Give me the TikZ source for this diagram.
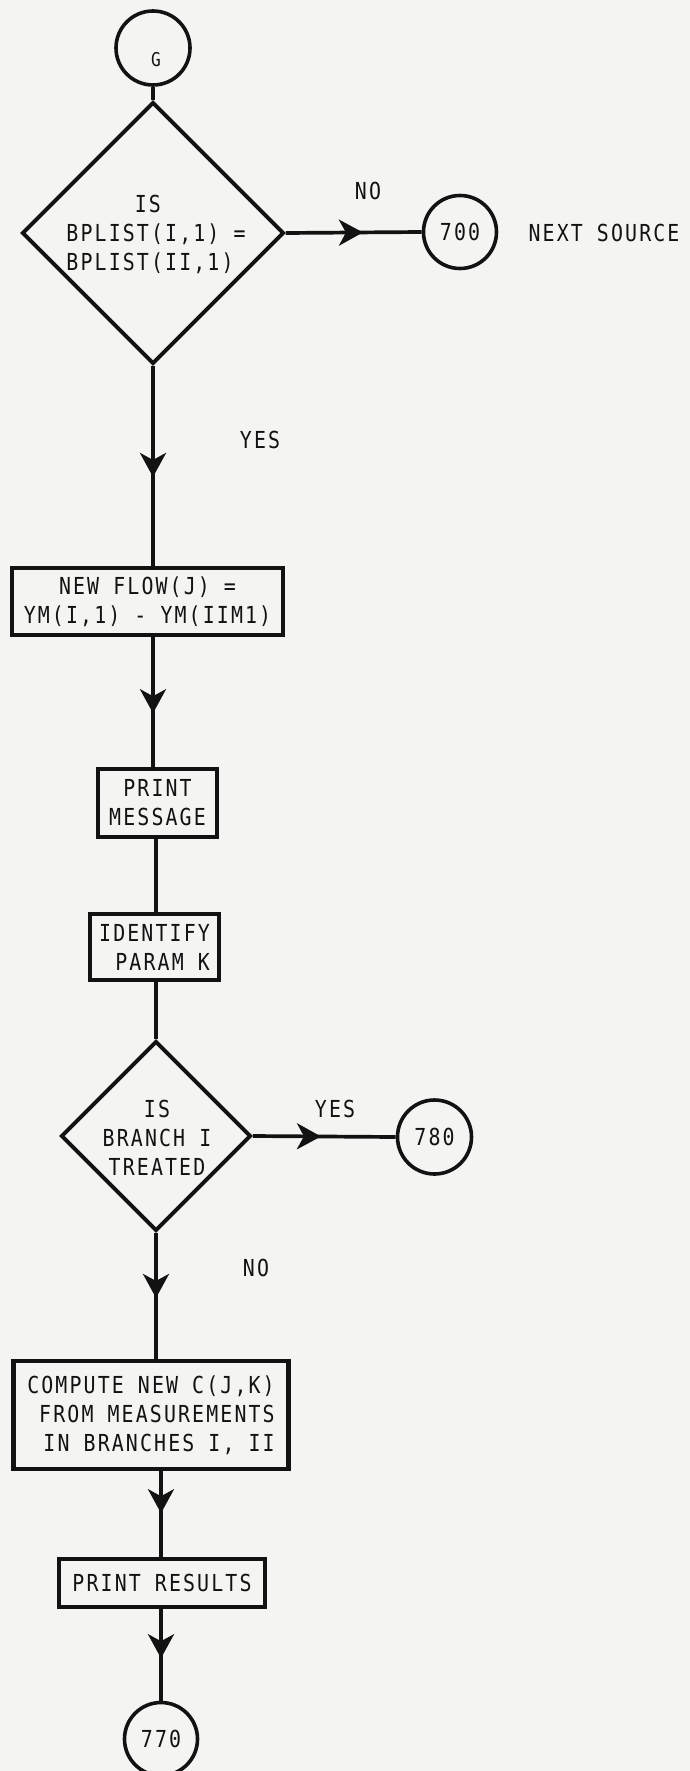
\documentclass[tikz,border=0pt]{standalone}
\usepackage{fontspec}
\usetikzlibrary{arrows.meta,shapes.geometric,decorations.markings}
\newfontfamily\lrfont{DejaVu Sans Mono}[FakeStretch=0.85,LetterSpace=9.1]
\definecolor{bgcol}{RGB}{244,244,242}
\definecolor{ink}{RGB}{18,18,18}
\begin{document}
\begin{tikzpicture}[x=1pt,y=-1pt,
  txt/.style={font=\lrfont\fontsize{23.4pt}{29pt}\selectfont, text=ink, inner sep=0pt},
  circnode/.style={circle, draw=ink, line width=3.6pt, minimum size=73pt, inner sep=0pt, text=ink,
    font=\lrfont\fontsize{23.4pt}{29pt}\selectfont},
  boxnode/.style={rectangle, draw=ink, line width=4.4pt, inner sep=0pt, text=ink,
    font=\lrfont\fontsize{23.4pt}{29pt}\selectfont},
  decnode/.style={diamond, draw=ink, line width=3.9pt, inner sep=0pt, aspect=1},
  conn/.style={draw=ink, line width=3.7pt},
  midarrow/.style={postaction={decorate}, decoration={markings,
    mark=at position #1 with {\arrow{Stealth[length=24pt,width=26pt,inset=7pt]}}}}
]
\useasboundingbox (0,0) rectangle (690,1771);
\fill[bgcol] (0,0) rectangle (690,1771);

% nodes
\node[circnode, minimum size=74pt] (g) at (153,48) {};
\node[txt, font=\lrfont\fontsize{19pt}{22pt}\selectfont] (gt) at (156,60) {G};

\node[decnode, minimum size=262pt] (d1) at (153,233) {};
\node[txt, align=left] (d1t) at (156,234) {\phantom{XXXXX}IS\\BPLIST(I,1) =\\BPLIST(II,1)};

\node[circnode] (c700) at (460,232) {700};
\node[txt] (no1) at (368,191) {NO};
\node[txt] (ns) at (604,233) {NEXT SOURCE};

\node[txt] (yes1) at (260,440) {YES};

\node[boxnode, align=center, minimum width=271pt, minimum height=67pt] (b1) at (147.5,601.5)
  {NEW FLOW(J) =\\YM(I,1) - YM(IIM1)};

\node[boxnode, align=center, minimum width=119pt, minimum height=68pt] (b2) at (157.5,803)
  {PRINT\\MESSAGE};

\node[boxnode, align=right, minimum width=129pt, minimum height=66pt] (b3) at (154.5,947)
  {IDENTIFY\\PARAM K};

\node[decnode, minimum size=190pt] (d2) at (156,1136) {};
\node[txt, align=center] (d2t) at (157,1138) {IS\\BRANCH I\\TREATED};

\node[txt] (yes2) at (335,1109) {YES};
\node[circnode, minimum size=74pt] (c780) at (434.5,1137) {780};
\node[txt] (no2) at (256,1268) {NO};

\node[boxnode, align=right, minimum width=275pt, minimum height=108pt] (b4) at (151,1415)
  {COMPUTE NEW C(J,K)\\FROM MEASUREMENTS\\IN BRANCHES I, II};

\node[boxnode, align=center, minimum width=206pt, minimum height=48pt] (b5) at (162,1583)
  {PRINT RESULTS};

\node[circnode] (c770) at (161,1739) {770};

% connectors
\draw[conn] (g.south) -- (d1.north);
\draw[conn, midarrow=111pt] (d1.south) -- (d1.south |- b1.north);
\draw[conn, midarrow=76pt] (d1.south |- b1.south) -- (d1.south |- b2.north);
\draw[conn] (d2.north |- b2.south) -- (d2.north |- b3.north);
\draw[conn] (d2.north |- b3.south) -- (d2.north);
\draw[conn, midarrow=65pt] (d2.south) -- (d2.south |- b4.north);
\draw[conn, midarrow=42pt] (c770.north |- b4.south) -- (c770.north |- b5.north);
\draw[conn, midarrow=49pt] (c770.north |- b5.south) -- (c770.north);
\draw[conn, midarrow=77pt] (d1.east) -- (c700.west);
\draw[conn, midarrow=68pt] (d2.east) -- (c780.west);
\end{tikzpicture}
\end{document}
